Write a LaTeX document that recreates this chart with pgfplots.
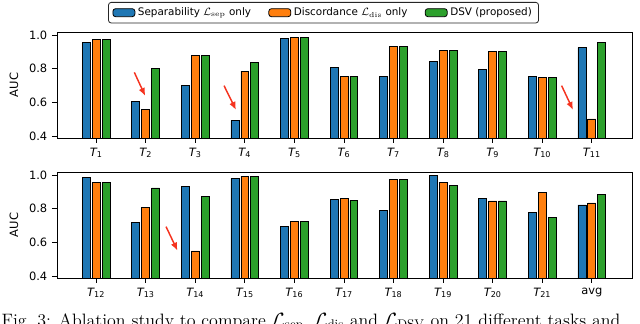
\documentclass[border=0pt]{standalone}
\usepackage{pgfplots}
\pgfplotsset{compat=1.18}
\usepackage{pgfplotstable}
\usepackage{fontspec}
\setsansfont{DejaVu Sans}
\usetikzlibrary{arrows.meta}

\definecolor{cblue}{HTML}{1F77B4}
\definecolor{corange}{HTML}{FF7F0E}
\definecolor{cgreen}{HTML}{2CA02C}
\definecolor{carrow}{HTML}{F5331F}

% tasks T1..T11
\pgfplotstableread{
x  sep   dis   dsv
1  0.958 0.976 0.976
2  0.604 0.558 0.802
3  0.699 0.881 0.881
4  0.493 0.786 0.838
5  0.980 0.984 0.984
6  0.806 0.756 0.756
7  0.753 0.933 0.933
8  0.842 0.909 0.909
9  0.798 0.901 0.901
10 0.754 0.749 0.749
11 0.925 0.501 0.958
}\toptable

% tasks T12..T21 and avg
\pgfplotstableread{
x  sep   dis   dsv
1  0.984 0.954 0.954
2  0.717 0.808 0.923
3  0.931 0.549 0.871
4  0.980 0.994 0.994
5  0.695 0.725 0.725
6  0.853 0.859 0.848
7  0.790 0.974 0.974
8  1.000 0.958 0.939
9  0.859 0.846 0.846
10 0.780 0.897 0.749
11 0.822 0.834 0.883
}\bottable

\newcommand{\tk}[1]{{\itshape T}\textsubscript{#1}}

\tikzset{hint/.style={carrow, line width=1.1pt, -{Latex[length=6pt,width=5pt]}}}

\pgfplotsset{
  panel/.style={
    scale only axis, width=431.25pt, height=79.5pt,
    anchor=north west,
    xmin=0.21, xmax=11.81, ymin=0.388, ymax=1.018,
    ybar, bar width=0.16,
    xtick={1,...,11}, ytick={0.4,0.6,0.8,1.0},
    yticklabel style={/pgf/number format/.cd, fixed, fixed zerofill, precision=1},
    /pgf/number format/assume math mode=true,
    tick align=outside, tick pos=left,
    major tick length=3.75pt,
    axis line style={line width=0.6pt},
    every tick/.style={black, line width=0.6pt},
    ylabel={AUC},
    ylabel style={at={(axis description cs:-0.075,0.5)}, anchor=center},
    tick label style={font=\sffamily\fontsize{8.6}{10}\selectfont},
    label style={font=\sffamily\fontsize{8.6}{10}\selectfont},
  },
  bars/.style={draw=black, line width=0.6pt, fill=#1,
    legend image code/.code={\draw[##1] (0pt,-3pt) rectangle (16.5pt,3pt);}},
}

\begin{document}
\begin{tikzpicture}[font=\sffamily]
\useasboundingbox (0,0) rectangle (480pt,-243pt);
\clip (0,0) rectangle (480pt,-243pt);

\begin{axis}[panel, at={(42.75pt,-24pt)},
  xticklabels={\tk{1},\tk{2},\tk{3},\tk{4},\tk{5},\tk{6},\tk{7},\tk{8},\tk{9},\tk{10},\tk{11}},
  legend columns=3,
  legend style={at={(axis description cs:0.4635,1.283)}, anchor=north,
    draw=black!85, rounded corners=2pt, line width=0.6pt,
    font=\sffamily\fontsize{7.8}{9.5}\selectfont,
    /tikz/every even column/.append style={column sep=11pt}},
  legend cell align=left,
]
\addplot[bars=cblue, bar shift=-0.2] table[x=x, y=sep] {\toptable};
\addlegendentry{Separability $\mathcal{L}_{\mathrm{sep}}$ only}
\addplot[bars=corange, bar shift=0] table[x=x, y=dis] {\toptable};
\addlegendentry{Discordance $\mathcal{L}_{\mathrm{dis}}$ only}
\addplot[bars=cgreen, bar shift=0.2] table[x=x, y=dsv] {\toptable};
\addlegendentry{DSV (proposed)}
\draw[hint] (axis cs:1.77,0.778) -- (axis cs:1.99,0.638);
\draw[hint] (axis cs:3.58,0.699) -- (axis cs:3.82,0.555);
\draw[hint] (axis cs:10.39,0.699) -- (axis cs:10.62,0.555);
\end{axis}

\begin{axis}[panel, at={(42.75pt,-129pt)},
  xticklabels={\tk{12},\tk{13},\tk{14},\tk{15},\tk{16},\tk{17},\tk{18},\tk{19},\tk{20},\tk{21},avg},
]
\addplot[bars=cblue, bar shift=-0.2] table[x=x, y=sep] {\bottable};
\addplot[bars=corange, bar shift=0] table[x=x, y=dis] {\bottable};
\addplot[bars=cgreen, bar shift=0.2] table[x=x, y=dsv] {\bottable};
\draw[hint] (axis cs:2.41,0.693) -- (axis cs:2.64,0.551);
\end{axis}

\node[anchor=north west, inner sep=0pt, font=\rmfamily\fontsize{13.45}{15}\selectfont]
  at (1pt,-234.5pt) {Fig.~3: Ablation study to compare $\mathcal{L}_{\mathrm{sep}}$, $\mathcal{L}_{\mathrm{dis}}$ and $\mathcal{L}_{\mathrm{DSV}}$ on 21 different tasks and};
\end{tikzpicture}
\end{document}
